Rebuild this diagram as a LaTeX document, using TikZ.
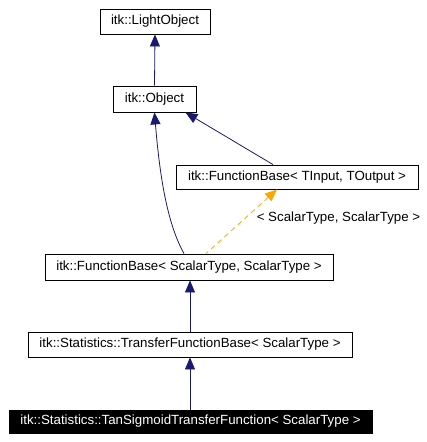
\documentclass[tikz,border=0pt]{standalone}
\usepackage{fontspec}
\setmainfont{Liberation Sans}
\usetikzlibrary{arrows.meta}
\definecolor{navy}{HTML}{191970}
\definecolor{tmplorange}{HTML}{FFA500}

\begin{document}
\begin{tikzpicture}[x=1pt,y=-1pt,
    cls/.style={draw, line width=0.9pt, inner sep=0pt, font=\fontsize{13.3}{15}\selectfont},
    inherit/.style={navy, line width=0.8pt, {Triangle[length=12pt,width=10pt]}-},
    tmpl/.style={tmplorange, line width=0.8pt, dash pattern=on 5pt off 4pt, {Triangle[length=12pt,width=10pt]}-}]
    \useasboundingbox (0,0) rectangle (426,442);
    \node[cls, minimum width=110pt, minimum height=25pt] (lightobj) at (155,21.5) {itk::LightObject};
    \node[cls, minimum width=83pt, minimum height=26pt] (object) at (154.5,99) {itk::Object};
    \node[cls, minimum width=242pt, minimum height=24pt] (fbinout) at (297,177) {itk::FunctionBase< TInput, TOutput >};
    \node[cls, minimum width=288pt, minimum height=26pt] (fbscalar) at (189,267) {itk::FunctionBase< ScalarType, ScalarType >};
    \node[cls, minimum width=324pt, minimum height=25pt] (transfer) at (190,344.5) {itk::Statistics::TransferFunctionBase< ScalarType >};
    \node[cls, fill=black, text=white, minimum width=363pt, minimum height=23pt] (tansig) at (190.5,421.5) {itk::Statistics::TanSigmoidTransferFunction< ScalarType >};
    % inheritance
    \draw[inherit] (lightobj.south) -- (object.north);
    \draw[inherit] (object.south east) ++(-11,0) coordinate (objse) -- (fbinout.north -| 273,0);
    \draw[inherit] (object.south) .. controls (160,180) and (168,225) .. (fbscalar.north -| 184,0);
    \draw[tmpl] (fbinout.south -| 277,0) -- (fbscalar.north -| 206,0)
        node[pos=0.45, right=8pt, text=black, font=\fontsize{13.3}{15}\selectfont] {< ScalarType, ScalarType >};
    \draw[inherit] (fbscalar.south -| 190,0) -- (transfer.north -| 190,0);
    \draw[inherit] (transfer.south -| 190,0) -- (tansig.north -| 190,0);
\end{tikzpicture}
\end{document}
